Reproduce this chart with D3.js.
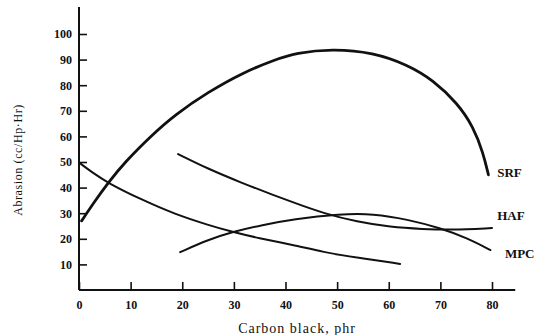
<!DOCTYPE html>
<html>
<head>
<meta charset="utf-8">
<script src="https://cdn.jsdelivr.net/npm/d3@7"></script>
<style>
  body { margin: 0; background: #fff; }
  svg { display: block; }
  .axis text { font-family: "Liberation Serif", "DejaVu Serif", serif; font-size: 12px; font-weight: bold; fill: #111; }
  .axis line { stroke: #111; stroke-width: 1.6; }
  .curve { fill: none; stroke: #111; stroke-linecap: round; }
  .lbl { font-family: "Liberation Serif", serif; font-size: 13px; font-weight: bold; fill: #111; }
  .title { font-family: "Liberation Serif", serif; font-size: 12px; fill: #111; }
</style>
</head>
<body>
<svg id="chart" width="547" height="335"></svg>
<script>
// x ticks (carbon black, phr) and y ticks (abrasion)
var xTicks = [0, 10, 20, 30, 40, 50, 60, 70, 80];
var yTicks = [10, 20, 30, 40, 50, 60, 70, 80, 90, 100];

// curves: [phr, abrasion]
var srf = [[0.5, 27], [3, 34.5], [5.6, 41.8], [8.9, 50], [14.1, 60.5], [18.6, 68.5], [25, 77.3], [31.6, 84.8],
           [38, 90], [42, 92.6], [49, 94.2], [57, 92.8], [63.6, 88], [68.6, 82], [73.3, 73],
           [76.4, 63.7], [78.3, 53.5], [79.3, 45]];
var descent = [[0, 49.8], [2.5, 46], [5.6, 41.8], [12.2, 35.2], [18.6, 29.6], [25, 25.4], [29.7, 22.7], [34.7, 20.3],
               [41.5, 17.6], [47.3, 14.8], [53.9, 12.6], [62.2, 10.2]];
var haf = [[19.2, 53.1], [25, 47.3], [31.6, 41.8], [36.6, 37.9], [41.5, 34.2], [47.3, 30], [53.9, 26.6],
           [60.3, 24.6], [66.7, 23.8], [71.9, 23.4], [80, 24.2]];
var mpc = [[19.6, 14.8], [25, 19.6], [29.7, 22.7], [35.5, 25.4], [41.5, 27.7], [50.6, 29.7], [57, 29.8],
           [63.6, 27.6], [70, 24.2], [75.2, 20.3], [79.7, 15.6]];
var labels = ["SRF", "HAF", "MPC"];
var labelPos = [[81, 44], [81, 27.5], [82.5, 12.5]];

var svg = d3.select("#chart");

var x = d3.scaleLinear().domain([0, 80]).range([79, 492]);
var y = d3.scaleLinear().domain([0, 100]).range([290, 34]);

// axis lines
svg.append("line")
   .attr("x1", x(0)).attr("x2", x(0))
   .attr("y1", y(0)).attr("y2", y(110.5))
   .attr("stroke", "#111").attr("stroke-width", 2);
svg.append("line")
   .attr("x1", x(0)).attr("x2", x(84.5))
   .attr("y1", y(0)).attr("y2", y(0))
   .attr("stroke", "#111").attr("stroke-width", 2);

var yAxis = svg.append("g")
   .attr("class", "axis")
   .attr("transform", "translate(" + x(0) + ",0)")
   .call(d3.axisLeft(y).tickValues(yTicks).tickSize(-8).tickPadding(7));
yAxis.select(".domain").remove();

var xAxis = svg.append("g")
   .attr("class", "axis")
   .attr("transform", "translate(0," + y(0) + ")")
   .call(d3.axisBottom(x).tickValues(xTicks).tickSize(-8).tickPadding(10));
xAxis.select(".domain").remove();

var line = d3.line()
   .x(function(d){ return x(d[0]); })
   .y(function(d){ return y(d[1]); })
   .curve(d3.curveBasis);

svg.append("path").attr("class", "curve").attr("d", line(srf)).attr("stroke-width", 2.8);
svg.append("path").attr("class", "curve").attr("d", line(descent)).attr("stroke-width", 2);
svg.append("path").attr("class", "curve").attr("d", line(haf)).attr("stroke-width", 2);
svg.append("path").attr("class", "curve").attr("d", line(mpc)).attr("stroke-width", 2);

labels.forEach(function(t, i){
	svg.append("text")
	   .attr("class", "lbl")
	   .attr("x", x(labelPos[i][0]))
	   .attr("y", y(labelPos[i][1]))
	   .text(t);
});

svg.append("text")
   .attr("class", "title")
   .attr("transform", "translate(22,160) rotate(-90)")
   .attr("text-anchor", "middle")
   .attr("letter-spacing", "0.6")
   .text("Abrasion (cc/Hp·Hr)");

svg.append("text")
   .attr("class", "title")
   .attr("x", 297)
   .attr("y", 333)
   .attr("text-anchor", "middle")
   .style("font-size", "14px")
   .attr("letter-spacing", "1")
   .text("Carbon black, phr");
</script>
</body>
</html>
